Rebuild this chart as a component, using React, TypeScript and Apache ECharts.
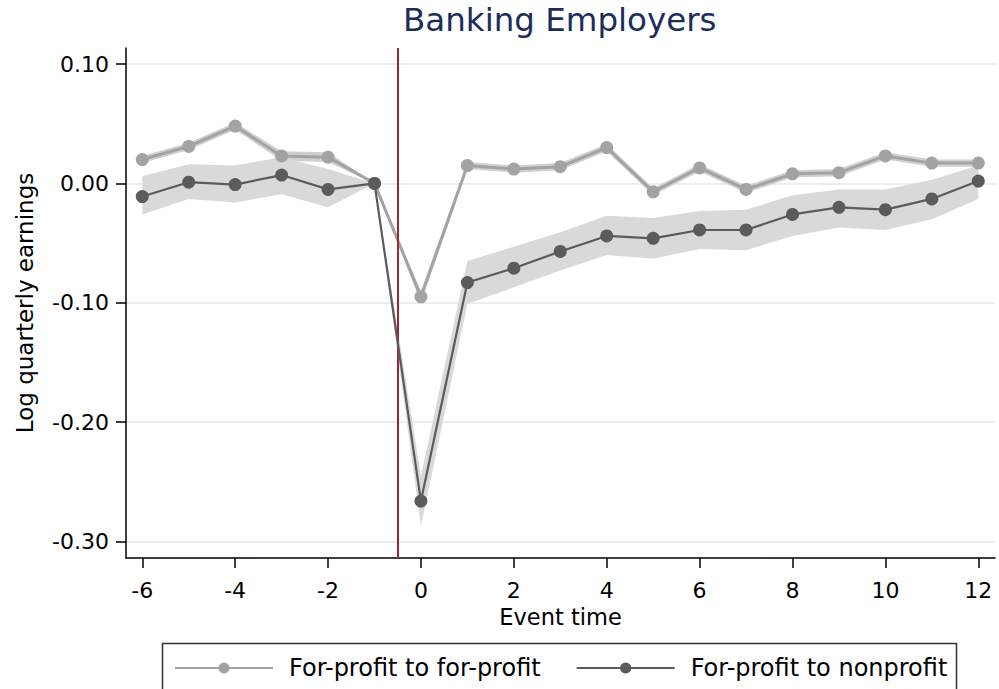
import React, { useEffect, useRef } from "react";
import * as echarts from "echarts";

// Event time (quarters relative to the ownership change)
const eventTime = [-6, -5, -4, -3, -2, -1, 0, 1, 2, 3, 4, 5, 6, 7, 8, 9, 10, 11, 12];

// For-profit to for-profit: point estimates and 95% bounds
const forProfit = [0.020, 0.031, 0.048, 0.023, 0.022, 0, -0.095, 0.015, 0.012, 0.014, 0.030, -0.007, 0.013, -0.005, 0.008, 0.009, 0.023, 0.017, 0.017];
const forProfitLo = [0.017, 0.028, 0.045, 0.019, 0.018, 0, -0.100, 0.012, 0.009, 0.011, 0.027, -0.010, 0.010, -0.008, 0.005, 0.006, 0.020, 0.014, 0.014];
const forProfitHi = [0.023, 0.034, 0.051, 0.027, 0.026, 0, -0.090, 0.018, 0.015, 0.017, 0.033, -0.004, 0.016, -0.002, 0.011, 0.012, 0.026, 0.020, 0.020];

// For-profit to nonprofit: point estimates and 95% bounds
const nonprofit = [-0.011, 0.001, -0.001, 0.007, -0.005, 0, -0.266, -0.083, -0.071, -0.057, -0.044, -0.046, -0.039, -0.039, -0.026, -0.020, -0.022, -0.013, 0.002];
const nonprofitLo = [-0.026, -0.013, -0.016, -0.009, -0.020, 0, -0.287, -0.101, -0.087, -0.073, -0.060, -0.063, -0.055, -0.056, -0.044, -0.037, -0.039, -0.030, -0.013];
const nonprofitHi = [0.006, 0.016, 0.015, 0.022, 0.012, 0, -0.245, -0.065, -0.053, -0.041, -0.027, -0.029, -0.023, -0.022, -0.010, -0.005, -0.005, 0.003, 0.015];

// Axis ticks
const xTicks = [-6, -4, -2, 0, 2, 4, 6, 8, 10, 12];
const yTicks = [-0.3, -0.2, -0.1, 0, 0.1];

// Treatment date marker
const eventLine = -0.5;

const FONT = "DejaVu Sans";

function bandSeries(lo: number[], hi: number[], color: string, z: number) {
  return {
    type: "custom",
    z,
    silent: true,
    data: eventTime.map((x, i) => [x, lo[i], hi[i]]),
    encode: { x: 0, y: [1, 2] },
    renderItem: (params: any, api: any) => {
      if (params.dataIndex !== 0) return { type: "group", children: [] };
      const upper = eventTime.map((x, i) => api.coord([x, hi[i]]));
      const lower = eventTime.map((x, i) => api.coord([x, lo[i]])).reverse();
      return {
        type: "polygon",
        shape: { points: upper.concat(lower) },
        style: { fill: color, stroke: "none" },
      };
    },
  };
}

export default function App() {
  const ref = useRef<HTMLDivElement>(null);

  useEffect(() => {
    if (!ref.current) return;
    const chart = echarts.init(ref.current, undefined, { renderer: "svg" });

    chart.setOption({
      animation: false,
      backgroundColor: "#ffffff",
      title: {
        text: "Banking Employers",
        left: 403,
        top: 3,
        padding: 0,
        textStyle: { fontFamily: FONT, fontSize: 32.5, fontWeight: "normal", color: "#1c2d5c" },
      },
      grid: { left: 126, right: 4, top: 48, bottom: 131, containLabel: false },
      legend: {
        left: 174,
        top: 656,
        padding: 0,
        itemWidth: 98,
        itemHeight: 14,
        itemGap: 35,
        textStyle: { fontFamily: FONT, fontSize: 24, color: "#000", padding: [0, 0, 0, 11] },
        data: ["For-profit to for-profit", "For-profit to nonprofit"],
      },
      xAxis: {
        type: "value",
        min: -6.35,
        max: 12.36,
        name: "Event time",
        nameLocation: "middle",
        nameGap: 40,
        nameTextStyle: { fontFamily: FONT, fontSize: 22.5, color: "#000" },
        axisLine: { show: true, onZero: false, lineStyle: { color: "#000", width: 1.5 } },
        axisTick: { show: true, length: 10, customValues: xTicks, lineStyle: { color: "#000", width: 1.5 } },
        axisLabel: { customValues: xTicks, margin: 21, fontFamily: FONT, fontSize: 22, color: "#000" },
        splitLine: { show: false },
      },
      yAxis: {
        type: "value",
        min: -0.3137,
        max: 0.1134,
        name: "Log quarterly earnings",
        nameLocation: "middle",
        nameGap: 90,
        nameTextStyle: { fontFamily: FONT, fontSize: 23, color: "#000" },
        axisLine: { show: true, onZero: false, lineStyle: { color: "#000", width: 1.5 } },
        axisTick: { show: true, length: 10, customValues: yTicks, lineStyle: { color: "#000", width: 1.5 } },
        axisLabel: {
          customValues: yTicks,
          margin: 17,
          fontFamily: FONT,
          fontSize: 22,
          color: "#000",
          formatter: (v: number) => v.toFixed(2),
        },
        splitLine: { show: true, lineStyle: { color: "#e8eff2", width: 2 } },
      },
      graphic: [
        {
          type: "rect",
          shape: { x: 162.5, y: 643.5, width: 794, height: 80 },
          style: { fill: "none", stroke: "#333333", lineWidth: 1.5 },
          silent: true,
        },
      ],
      series: [
        {
          type: "line",
          name: "event",
          data: [],
          z: 1,
          silent: true,
          markLine: {
            silent: true,
            symbol: "none",
            label: { show: false },
            lineStyle: { color: "#a3232f", width: 2, type: "solid" },
            data: [{ xAxis: eventLine }],
          },
        },
        bandSeries(forProfitLo, forProfitHi, "#cfcfcf", 2),
        bandSeries(nonprofitLo, nonprofitHi, "#d9d9d9", 2),
        {
          type: "line",
          name: "For-profit to for-profit",
          data: eventTime.map((x, i) => [x, forProfit[i]]),
          symbol: "circle",
          symbolSize: 13,
          z: 4,
          lineStyle: { color: "#a3a3a3", width: 3 },
          itemStyle: { color: "#a3a3a3" },
        },
        {
          type: "line",
          name: "For-profit to nonprofit",
          data: eventTime.map((x, i) => [x, nonprofit[i]]),
          symbol: "circle",
          symbolSize: 13,
          z: 5,
          lineStyle: { color: "#5b5b5b", width: 2.2 },
          itemStyle: { color: "#5b5b5b" },
        },
      ],
    });

    return () => chart.dispose();
  }, []);

  return (
    <div
      ref={ref}
      style={{ position: "fixed", left: 0, top: 0, width: 999, height: 689, background: "#fff" }}
    />
  );
}
